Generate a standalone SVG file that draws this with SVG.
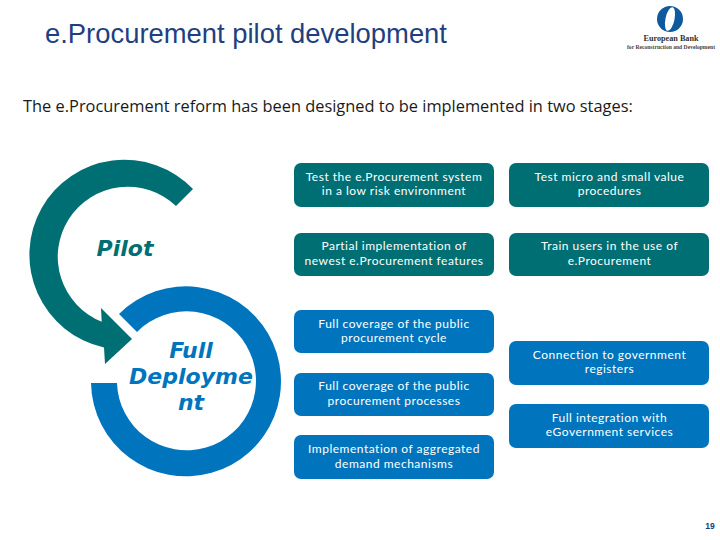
<svg xmlns="http://www.w3.org/2000/svg" width="720" height="540" viewBox="0 0 720 540">
<style>
.box{stroke:none}
.teal{fill:#006f74}
.blue{fill:#0075be}
.t{font-family:"Lato","Open Sans",sans-serif;font-size:12px;fill:#fff;text-anchor:middle;letter-spacing:.5px}
.h{font-family:"DejaVu Sans",sans-serif;font-size:22px;font-weight:700;font-style:italic;text-anchor:middle}
</style>
<rect width="720" height="540" fill="#fff"/>
<text id="title" x="45" y="43" font-family="Liberation Sans,Arial,sans-serif" font-size="27.4" fill="#1f3f7f">e.Procurement pilot development</text>
<text id="subtitle" x="23" y="112" font-family="Open Sans,Noto Sans,sans-serif" font-size="16.4" fill="#1a1a1a">The e.Procurement reform has been designed to be implemented in two stages:</text>
<g id="logo">
<ellipse cx="670" cy="19" rx="13" ry="13" fill="#0f5a9c"/>
<ellipse cx="670" cy="19" rx="4.500" ry="12" fill="#fff" transform="rotate(12 670 19)"/>
<text x="671" y="41" font-family="Liberation Serif,serif" font-size="8.2" font-weight="700" text-anchor="middle" fill="#333">European Bank</text>
<text x="671" y="49" font-family="Liberation Serif,serif" font-size="5.600" font-weight="700" text-anchor="middle" fill="#444">for Reconstruction and Development</text>
</g>
<g id="connectors">
<path id="pilot-arrow" class="teal" d="M193 189A95 95 0 1 0 104 347.500L105 364L132 339L101 308L101.700 321.700A70 70 0 1 1 176 206Z"/>
</g>
<g id="full-deployment-ring">
<path class="blue" d="M119 314A95 95 0 1 1 91 383L117 383A69.500 69.500 0 1 0 137 332Z"/>
</g>
<g id="pilot-label"><text class="h teal" x="125" y="256">Pilot</text></g>
<g id="full-label">
<text class="h blue" x="191" y="358">Full</text>
<text class="h blue" x="191" y="384">Deployme</text>
<text class="h blue" x="191" y="410">nt</text>
</g>
<g id="n1"><rect class="box teal" x="294" y="163" width="200" height="44" rx="7"/><text class="t" x="394" y="181">Test the e.Procurement system</text><text class="t" x="394" y="195">in a low risk environment</text></g>
<g id="n2"><rect class="box teal" x="509" y="163" width="200" height="44" rx="7"/><text class="t" x="609.500" y="181">Test micro and small value</text><text class="t" x="609.500" y="195">procedures</text></g>
<g id="n3"><rect class="box teal" x="294" y="233" width="200" height="43" rx="7"/><text class="t" x="394" y="250">Partial implementation of</text><text class="t" x="394" y="265">newest e.Procurement features</text></g>
<g id="n4"><rect class="box teal" x="509" y="233" width="200" height="43" rx="7"/><text class="t" x="609.500" y="250">Train users in the use of</text><text class="t" x="609.500" y="265">e.Procurement</text></g>
<g id="n5"><rect class="box blue" x="294" y="310" width="200" height="43" rx="7"/><text class="t" x="394" y="328">Full coverage of the public</text><text class="t" x="394" y="342">procurement cycle</text></g>
<g id="n6"><rect class="box blue" x="294" y="373" width="200" height="43" rx="7"/><text class="t" x="394" y="390">Full coverage of the public</text><text class="t" x="394" y="405">procurement processes</text></g>
<g id="n7"><rect class="box blue" x="294" y="435" width="200" height="44" rx="7"/><text class="t" x="394" y="453">Implementation of aggregated</text><text class="t" x="394" y="468">demand mechanisms</text></g>
<g id="n8"><rect class="box blue" x="509" y="341" width="200" height="44" rx="7"/><text class="t" x="609.500" y="359">Connection to government</text><text class="t" x="609.500" y="373">registers</text></g>
<g id="n9"><rect class="box blue" x="509" y="404" width="200" height="44" rx="7"/><text class="t" x="609.500" y="422">Full integration with</text><text class="t" x="609.500" y="436">eGovernment services</text></g>
<text id="page" x="710" y="529" font-family="Liberation Sans,sans-serif" font-size="8.500" font-weight="700" text-anchor="middle" fill="#0f3f7a">19</text>
</svg>
